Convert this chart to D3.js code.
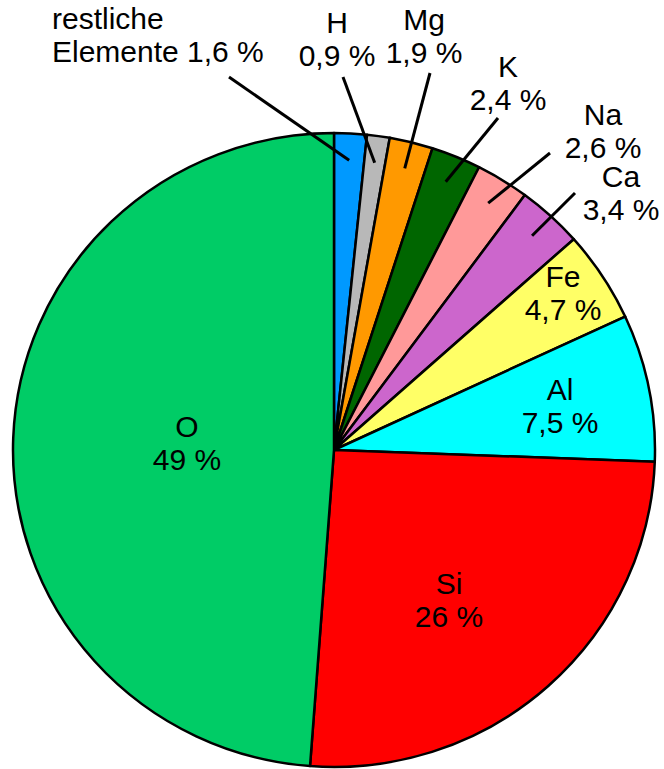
<!DOCTYPE html>
<html>
<head>
<meta charset="utf-8">
<script src="https://cdn.jsdelivr.net/npm/d3@7"></script>
<style>
	body { margin: 0; background: #fff; }
	svg { display: block; }
	text { font-family: Arial, "Liberation Sans", sans-serif; font-size: 30px; fill: #000; }
</style>
</head>
<body>
<div id="chart"></div>
<script>
"use strict";

// Anteile der Elemente an der Erdkruste (Massenprozent), im Uhrzeigersinn ab 12 Uhr
const elements = ["restliche Elemente", "H", "Mg", "K", "Na", "Ca", "Fe", "Al", "Si", "O"];
const shares = [1.64, 1.14, 2.18, 2.5, 2.67, 3.29, 4.66, 7.5, 25.6, 48.8];
const shareLabels = ["1,6 %", "0,9 %", "1,9 %", "2,4 %", "2,6 %", "3,4 %", "4,7 %", "7,5 %", "26 %", "49 %"];
const colors = ["#0099ff", "#b8b8b8", "#ff9900", "#006600", "#ff9999", "#cc66cc", "#ffff66", "#00ffff", "#ff0000", "#00cc66"];

const W = 664, H = 769;
const cx = 334, cy = 450;
const ry = 317, rx = 321; // leicht elliptisch

// label layout: first baseline, anchor, leader start (outside labels only)
const labelLayout = [
	{ x: 52, y: 29, anchor: "start", lines: ["restliche", "Elemente 1,6 %"], leader: [229, 77] },
	{ x: 337, y: 33, anchor: "middle", leader: [343, 77] },
	{ x: 424, y: 30, anchor: "middle", leader: [430, 73] },
	{ x: 508, y: 77, anchor: "middle", leader: [498, 118] },
	{ x: 603, y: 125, anchor: "middle", leader: [550, 153] },
	{ x: 621, y: 187, anchor: "middle", leader: [575, 193] },
	{ x: 563, y: 287, anchor: "middle" },
	{ x: 560, y: 400, anchor: "middle" },
	{ x: 449, y: 594, anchor: "middle" },
	{ x: 187, y: 437, anchor: "middle" }
];
const lineGap = 33;

const svg = d3.select("#chart")
	.append("svg")
	.attr("width", W)
	.attr("height", H);

const pie = d3.pie().sort(null).value((d) => d.value);
const data = elements.map((e, i) => ({ name: e, value: shares[i], label: shareLabels[i], color: colors[i], i: i }));
const arcs = pie(data);

const arc = d3.arc().innerRadius(0).outerRadius(ry);
const innerArc = d3.arc().innerRadius(ry * 0.915).outerRadius(ry * 0.915);

// slices, drawn as circle then stretched to the ellipse
const g = svg.append("g")
	.attr("transform", `translate(${cx},${cy}) scale(${rx / ry},1)`);

g.selectAll(".slice")
	.data(arcs)
	.enter()
	.append("path")
	.attr("class", "slice")
	.attr("d", arc)
	.attr("fill", (d) => d.data.color)
	.attr("stroke", "#000")
	.attr("stroke-width", 2.5)
	.attr("stroke-linejoin", "round")
	.attr("vector-effect", "non-scaling-stroke");

// leader lines
const lines = svg.append("g").attr("class", "leaders");
arcs.forEach((d, i) => {
	const lay = labelLayout[i];
	if (!lay.leader) return;
	const c = innerArc.centroid(d);
	lines.append("line")
		.attr("x1", lay.leader[0])
		.attr("y1", lay.leader[1])
		.attr("x2", cx + c[0] * rx / ry)
		.attr("y2", cy + c[1])
		.attr("stroke", "#000")
		.attr("stroke-width", 3);
});

// labels
const labels = svg.append("g").attr("class", "labels");
arcs.forEach((d, i) => {
	const lay = labelLayout[i];
	const txt = lay.lines || [d.data.name, d.data.label];
	const t = labels.append("text")
		.attr("text-anchor", lay.anchor)
		.attr("x", lay.x)
		.attr("y", lay.y);
	txt.forEach((s, k) => {
		t.append("tspan")
			.attr("x", lay.x)
			.attr("y", lay.y + k * lineGap)
			.text(s);
	});
});
</script>
</body>
</html>
